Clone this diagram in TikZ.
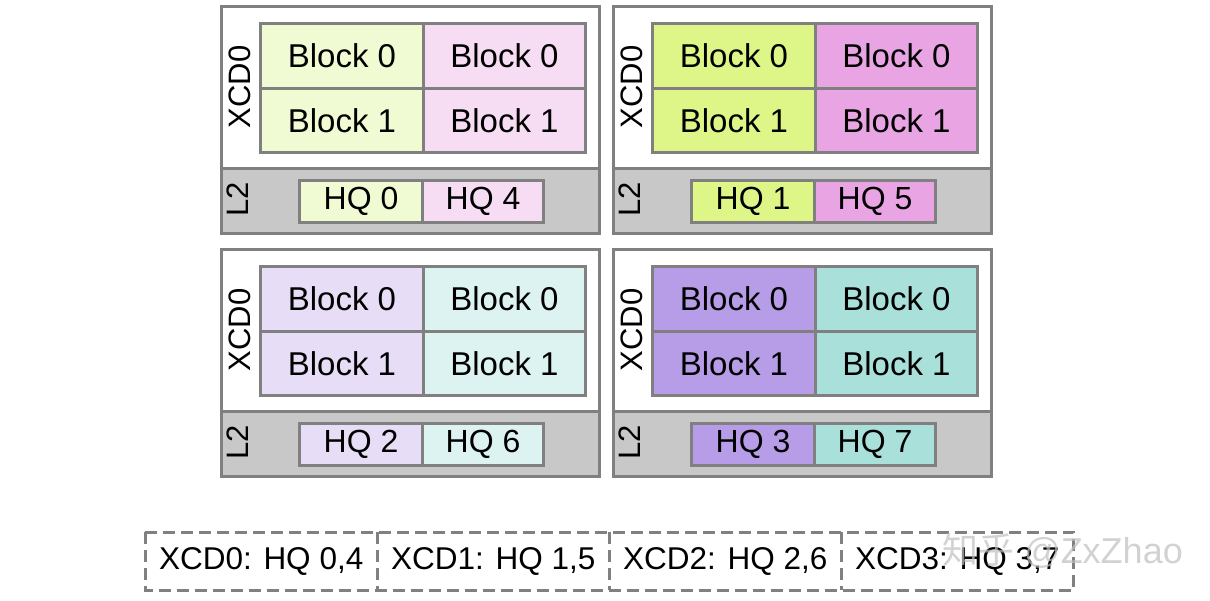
\documentclass[tikz,border=0pt]{standalone}
\usepackage{fontspec}
\setmainfont{Liberation Sans}
\newfontfamily\cjkfont{Noto Sans CJK SC}
\definecolor{bord}{HTML}{808080}
\definecolor{band}{HTML}{C8C8C8}
\definecolor{aL}{HTML}{F1FBD3}
\definecolor{aR}{HTML}{F6DDF3}
\definecolor{bL}{HTML}{DDF687}
\definecolor{bR}{HTML}{E9A5E3}
\definecolor{cL}{HTML}{E7DDF6}
\definecolor{cR}{HTML}{DDF3F1}
\definecolor{dL}{HTML}{B79CE7}
\definecolor{dR}{HTML}{A9E0DA}
\tikzset{
  lw/.style={line width=3pt},
  outerbox/.style={draw=bord, lw, fill=white},
  bandbox/.style={draw=bord, lw, fill=band},
  cell/.style={draw=bord, lw, minimum width=163pt, minimum height=64.5pt, inner sep=0pt, font=\fontsize{33}{33}\selectfont, anchor=north west},
  hqcell/.style={draw=bord, lw, minimum width=122pt, minimum height=42pt, inner sep=0pt, font=\fontsize{32}{32}\selectfont, anchor=north west},
  vlabel/.style={rotate=90, inner sep=0pt, font=\fontsize{31}{31}\selectfont},
  legend/.style={minimum width=232pt, minimum height=58pt, inner sep=0pt, font=\fontsize{31.5}{31.5}\selectfont, anchor=north west},
  legline/.style={draw=bord, lw, dash pattern=on 12pt off 6pt},
}
\begin{document}
\begin{tikzpicture}[x=1pt,y=-1pt]
\useasboundingbox (0,0) rectangle (1210,600);
\foreach \ox/\oy/\cl/\cr/\ha/\hb/\nm in {0/0/aL/aR/0/4/a, 392/0/bL/bR/1/5/b, 0/243/cL/cR/2/6/c, 392/243/dL/dR/3/7/d}{
  \begin{scope}[shift={(\ox,\oy)}]
    \node[outerbox, minimum width=378pt, minimum height=227pt, inner sep=0pt, anchor=north west] (\nm-outer) at (220,5) {};
    \node[bandbox, minimum width=378pt, minimum height=65pt, inner sep=0pt, anchor=north west] (\nm-band) at (220,167) {};
    \node[cell, fill=\cl] (\nm-b00) at (259,22) {Block 0};
    \node[cell, fill=\cr, minimum width=162pt] (\nm-b01) at (422,22) {Block 0};
    \node[cell, fill=\cl] (\nm-b10) at (259,86.5) {Block 1};
    \node[cell, fill=\cr, minimum width=162pt] (\nm-b11) at (422,86.5) {Block 1};
    \node[hqcell, fill=\cl, minimum width=123pt] (\nm-h0) at (298,179) {HQ \ha};
    \node[hqcell, fill=\cr, minimum width=121pt] (\nm-h1) at (421,179) {HQ \hb};
    \node[vlabel] (\nm-xcd) at (240,87) {XCD0};
    \node[vlabel] (\nm-l2) at (238,199) {L2};
  \end{scope}
}
\node[legend] (l0) at (145,532) {XCD0: HQ 0,4};
\node[legend] (l1) at (377,532) {XCD1: HQ 1,5};
\node[legend] (l2) at (609,532) {XCD2: HQ 2,6};
\node[legend] (l3) at (841,532) {XCD3: HQ 3,7};
\draw[legline] (l0.north west) rectangle (l3.south east);
\draw[legline] (l0.north east) -- (l0.south east);
\draw[legline] (l1.north east) -- (l1.south east);
\draw[legline] (l2.north east) -- (l2.south east);
\node[anchor=west, inner sep=0pt, text=gray!50, opacity=0.7, font=\fontsize{36}{36}\selectfont] (wm) at (942,551) {{\cjkfont 知乎} @ZxZhao};
\end{tikzpicture}
\end{document}
